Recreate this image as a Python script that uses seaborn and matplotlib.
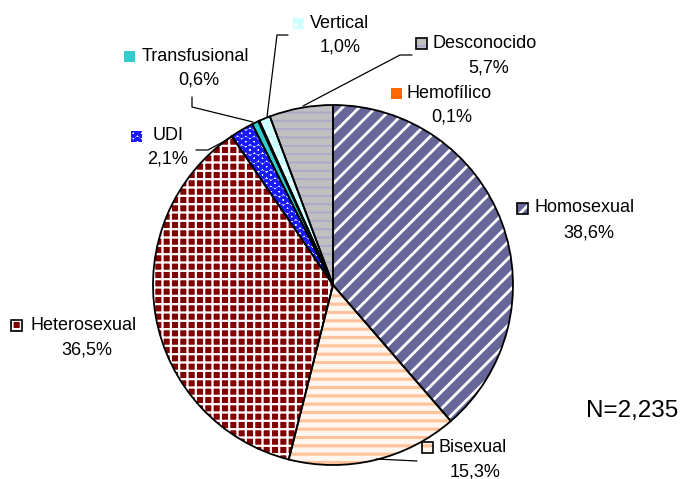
import numpy as np
import pandas as pd
import seaborn as sns
import matplotlib
matplotlib.use('Agg')
import matplotlib.pyplot as plt
from matplotlib.patches import Rectangle

categorias = ['Homosexual', 'Bisexual', 'Heterosexual', 'UDI',
              'Transfusional', 'Hemofílico', 'Vertical', 'Desconocido']
porcentajes = [38.6, 15.3, 36.5, 2.1, 0.6, 0.1, 1.0, 5.7]
total_n = '2,235'

# fill colour, hatch, hatch colour, hatch width, border on the legend square
fondo = ['#666699', '#fff6ef', '#800000', '#ffffff', '#33cccc', '#ff6600', '#ccffff', '#c0c0c0']
trama = ['//', '--', '++', 'OO', '', '', '..', '--']
color_trama = ['#ffffff', '#ffc29a', '#ffffff', '#1a1aff', '#33cccc', '#ff6600', '#ffffff', '#ababcb']
ancho_trama = [2.0, 2.2, 1.6, 2.2, 1.0, 1.0, 1.5, 1.5]
con_borde = [True, True, True, False, False, False, False, True]

# label layout in pixels: square x, label y, text left x, pct x, pct y
pos = {
    'Homosexual':    (522, 208, 535, 589, 233),
    'Bisexual':      (427, 447, 439, 475, 472),
    'Heterosexual':  (16, 325, 30, 87, 350),
    'UDI':           (136, 136, 153, 168, 159),
    'Transfusional': (129, 56, 142, 199, 80),
    'Hemofílico':    (396, 93, 406, 452, 117),
    'Vertical':      (298, 23, 310, 340, 47),
    'Desconocido':   (421, 43, 433, 489, 68),
}
guias = [
    [(267, 117), (277, 35), (288, 35)],
    [(303, 106), (400, 55), (412, 55)],
    [(253, 122), (192, 107), (192, 97)],
    [(232, 137), (208, 150), (196, 150)],
    [(376, 459), (417, 461)],
]

sns.set_theme(style='white')
plt.rcParams['font.family'] = ['Liberation Sans', 'DejaVu Sans']
plt.rcParams['hatch.linewidth'] = 2.0


def rellenar(p, i):
    p.set_facecolor(fondo[i])
    p.set_edgecolor(color_trama[i])
    p.set_hatch(trama[i])
    p.set_linewidth(0)
    if hasattr(p, 'set_hatch_linewidth'):
        p.set_hatch_linewidth(ancho_trama[i])


W, H = 681, 479
fig = plt.figure(figsize=(W / 100, H / 100), dpi=100)
ax = fig.add_axes([0, 0, 1, 1])

# y axis points down (pixel layout), so counterclock=True draws clockwise on screen
wedges, _ = ax.pie(porcentajes, startangle=-90, counterclock=True,
                   center=(333, 285), radius=180)
for i, w in enumerate(wedges):
    rellenar(w, i)

bordes, _ = ax.pie(porcentajes, startangle=-90, counterclock=True,
                   center=(333, 285), radius=180,
                   wedgeprops=dict(facecolor='none', edgecolor='black', linewidth=1.3))

for i, cat in enumerate(categorias):
    sx, y, tx, px, py = pos[cat]
    sq = Rectangle((sx - 5.5, y - 5.5), 11, 11)
    ax.add_patch(sq)
    rellenar(sq, i)
    if con_borde[i]:
        ax.add_patch(Rectangle((sx - 5.5, y - 5.5), 11, 11, facecolor='none',
                               edgecolor='black', linewidth=1.2))
    ax.text(tx, y, cat, ha='left', va='center', fontsize=13, color='black')
    txt = f'{porcentajes[i]:.1f}%'.replace('.', ',')
    ax.text(px, py, txt, ha='center', va='center', fontsize=13, color='black')

for g in guias:
    xs, ys = zip(*g)
    ax.plot(xs, ys, color='black', linewidth=0.9)

ax.text(632, 411, f'N={total_n}', ha='center', va='center', fontsize=17.5, color='black')

ax.set_xlim(0, W)
ax.set_ylim(H, 0)
ax.set_aspect('auto')
ax.axis('off')

fig.savefig('out.png', dpi=100, facecolor='white')
